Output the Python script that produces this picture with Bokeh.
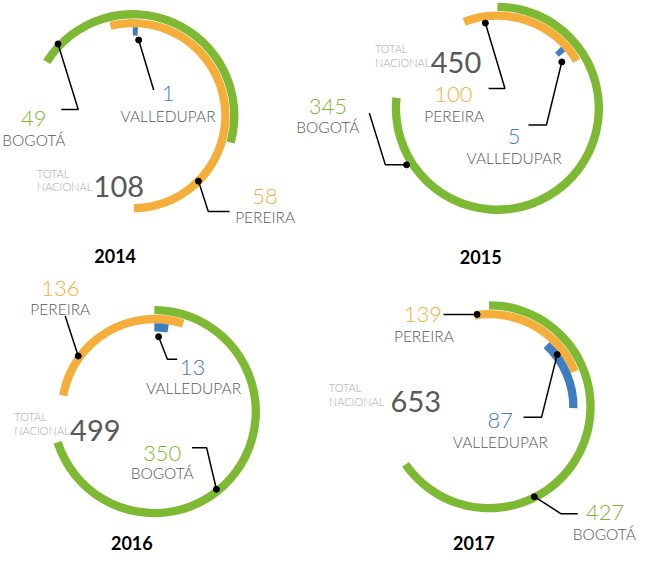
import math
from bokeh.plotting import figure
from bokeh.models import Range1d
from bokeh.core.properties import value
from bokeh.embed import file_html
from bokeh.resources import INLINE

# ---- data ----
years = ["2014", "2015", "2016", "2017"]
bogota = [49, 345, 350, 427]
pereira = [58, 100, 136, 139]
valledupar = [1, 5, 13, 87]
totals = [108, 450, 499, 653]
cities = ["BOGOTÁ", "PEREIRA", "VALLEDUPAR"]

# ---- layout (pixel coordinates of the 661x579 reference) ----
GREEN = "#7DB933"
ORANGE = "#F5AE3A"
BLUE = "#3F7CC0"
GRAY = "#585858"
LIGHT = "#A8A8A8"
FONT = "Lato Light"
FONT_REG = "Lato"

centers = [(143, 125.5), (515, 118), (165, 427.5), (506.5, 422.5)]
# start angle (deg, clockwise from 12 o'clock) per ring: bogota, pereira, valledupar
starts = [(-58, -14, 0), (0, -21, 46), (0, -80, 0), (0, -9, 43)]
radii = (103.5, 94.5, 86.0)
ring_w = 8.5

# label anchors: (value cx, value baseline, name cx, name baseline)
labels = [
    [(42, 128, 42, 150), (278, 208, 278, 229), (179, 103, 179, 126)],
    [(342, 116, 342, 137), (470, 104, 471, 126), (532, 147, 532, 169)],
    [(173, 470, 173, 490), (69, 302, 69, 323), (204, 382, 205, 403)],
    [(625, 530, 624, 552), (439, 328, 440, 350), (518, 437, 518, 458)],
]
# leader lines, last point is the dot
leaders = [
    [[(70, 119.3), (87.3, 119.3), (66.7, 52.3)],
     [(241.7, 223.3), (220, 223.3), (210, 192.3)],
     [(164.3, 99.3), (149, 48.3)]],
    [[(384.3, 122.7), (400.7, 175.7), (422.3, 175.7)],
     [(506, 97.7), (522.7, 97.7), (502.7, 31)],
     [(546.7, 135), (565, 135), (580.7, 70.7)]],
    [[(203.3, 464.3), (218.3, 464.3), (228.3, 506.7)],
     [(74, 330), (87.3, 370.7)],
     [(188.3, 374), (178.3, 374), (169.3, 351)]],
    [[(597, 531.7), (580, 531.7), (552.7, 514.3)],
     [(460, 328.3), (494.3, 328.3)],
     [(541.7, 433.3), (560, 433.3), (576, 369.3)]],
]
totals_pos = [(45, 185, 198, 103), (390, 57, 71, 447), (22, 432, 447, 79), (343, 403, 417, 406)]
year_pos = [(125, 269), (498, 270), (142, 562), (491, 562)]

H = 579


def Y(py):
    return H - py


# figure slightly smaller than the window so nothing scrolls; data units follow reference pixels
W, HH = 640, 556
X0, X1 = 8.0, 661.0
s = (X1 - X0) / W
Y1 = H - 8.0
Y0 = Y1 - HH * s
p = figure(width=W, height=HH, output_backend="svg", toolbar_location=None,
           x_range=Range1d(X0, X1), y_range=Range1d(Y0, Y1),
           min_border=0, title=None, x_axis_location=None, y_axis_location=None)
p.grid.visible = False
p.outline_line_color = None
p.background_fill_color = "white"
p.border_fill_color = "white"

colors = [GREEN, ORANGE, BLUE]
for i, yr in enumerate(years):
    vals = [bogota[i], pereira[i], valledupar[i]]
    cx, cy = centers[i]
    for k in range(3):
        a0 = starts[i][k]
        a1 = a0 + vals[k] / totals[i] * 360.0
        r = radii[k]
        p.annular_wedge(x=cx, y=Y(cy), inner_radius=r - ring_w / 2, outer_radius=r + ring_w / 2,
                        start_angle=math.radians(90 - a0), end_angle=math.radians(90 - a1),
                        direction="clock", fill_color=colors[k], line_color=None)
    # leaders
    for k in range(3):
        pts = leaders[i][k]
        p.line([q[0] for q in pts], [Y(q[1]) for q in pts], line_color="black", line_width=1.5)
        p.scatter([pts[-1][0]], [Y(pts[-1][1])], size=6, fill_color="black", line_color="black")
    # labels
    for k in range(3):
        vx, vy, nx, ny = labels[i][k]
        p.text([vx], [Y(vy)], text=[str(vals[k])], text_font=value(FONT), text_font_size="22px",
               text_color=colors[k], text_align="center", text_baseline="alphabetic")
        p.text([nx], [Y(ny)], text=[cities[k]], text_font=value(FONT), text_font_size="15.5px",
               text_color=GRAY, text_align="center", text_baseline="alphabetic")
    # total
    tx, ty1, ty2, nx = totals_pos[i]
    p.text([tx], [Y(ty1)], text=["TOTAL"], text_font=value(FONT), text_font_size="11px",
           text_color=LIGHT, text_align="left", text_baseline="alphabetic")
    p.text([tx], [Y(ty2)], text=["NACIONAL"], text_font=value(FONT), text_font_size="11px",
           text_color=LIGHT, text_align="left", text_baseline="alphabetic")
    p.text([nx], [Y(ty2)], text=[str(totals[i])], text_font=value(FONT_REG), text_font_size="29px",
           text_color=GRAY, text_align="left", text_baseline="alphabetic")
    # year
    yx, yy = year_pos[i]
    p.text([yx], [Y(yy)], text=[yr], text_font=value(FONT_REG), text_font_size="18px",
           text_font_style="bold", text_color="black", text_align="center", text_baseline="alphabetic")

open("out.html", "w").write(file_html(p, INLINE))
